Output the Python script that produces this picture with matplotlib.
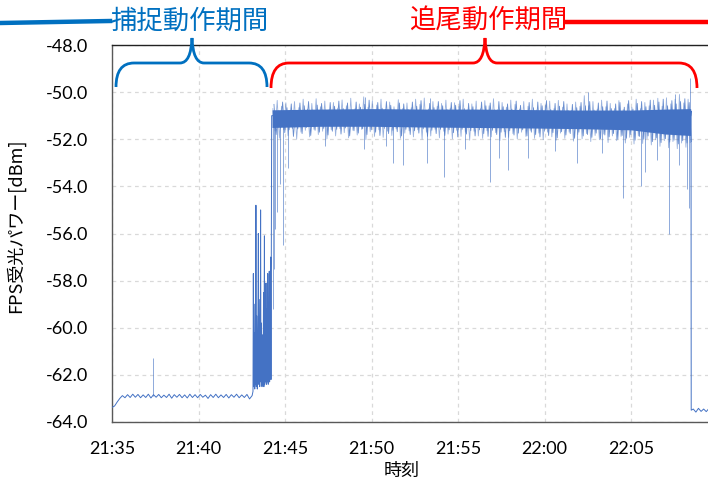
import numpy as np
import matplotlib
matplotlib.use('Agg')
import matplotlib.pyplot as plt
from matplotlib.path import Path
from matplotlib.patches import PathPatch
from matplotlib.lines import Line2D

# ---- data (minutes after 21:35, dBm) ----
tick_minutes = [0, 5, 10, 15, 20, 25, 30]
tick_labels = ['21:35', '21:40', '21:45', '21:50', '21:55', '22:00', '22:05']
y_ticks = [-48, -50, -52, -54, -56, -58, -60, -62, -64]

# acquisition baseline, sampled every 0.15 min from 0.0
acq_base = [-63.38, -63.32, -63.15, -63.00, -62.88, -62.97, -62.84, -62.96, -62.82, -62.95,
            -62.83, -62.97, -62.85, -62.96, -62.82, -62.98, -62.84, -62.95, -62.83, -62.97,
            -62.86, -62.96, -62.82, -62.99, -62.84, -62.95, -62.83, -62.97, -62.85, -62.98,
            -62.82, -62.96, -62.84, -62.97, -62.83, -62.95, -62.86, -63.00, -62.84, -62.96,
            -62.82, -62.97, -62.85, -62.96, -62.83, -62.98, -62.84, -62.95, -62.82, -62.97,
            -62.85, -62.96, -62.83, -63.02, -62.88]

# burst just before lock-on
burst_t = [8.15, 8.17, 8.19, 8.22, 8.25, 8.28, 8.30, 8.32, 8.34, 8.37, 8.40, 8.43, 8.46,
           8.48, 8.51, 8.54, 8.57, 8.59, 8.61, 8.64, 8.67, 8.70, 8.73, 8.76, 8.78, 8.81,
           8.83, 8.86, 8.88, 8.90, 8.93, 8.96, 8.98, 9.00, 9.03, 9.06, 9.09, 9.11, 9.14,
           9.17, 9.19, 9.23]
burst_v = [-62.7, -57.7, -62.5, -59.0, -62.6, -60.2, -62.4, -54.8, -62.5, -59.5, -62.6,
           -60.5, -56.0, -62.4, -58.8, -62.5, -61.0, -55.0, -62.3, -59.8, -62.5, -60.3,
           -62.4, -58.5, -62.5, -56.1, -62.4, -60.0, -62.3, -58.1, -62.4, -59.2, -62.3,
           -57.7, -62.4, -60.8, -57.6, -62.3, -59.5, -57.0, -62.2, -51.0]

# tracking band edges, sampled every 0.25 min from 9.3
band_hi = [-50.70, -50.35, -50.60, -50.45, -50.78, -50.40, -50.66, -50.30,
           -50.72, -50.48, -50.28, -50.62, -50.38, -50.75, -50.44, -50.68,
           -50.33, -50.58, -50.26, -50.70, -50.50, -50.20, -50.64, -50.36,
           -50.55, -50.30, -50.74, -50.42, -50.62, -50.32, -50.70, -50.46,
           -50.66, -50.30, -50.52, -50.25, -50.72, -50.40, -50.60, -50.48,
           -50.34, -50.68, -50.45, -50.62, -50.30, -50.76, -50.50, -50.38,
           -50.70, -50.36, -50.58, -50.28, -50.74, -50.44, -50.64, -50.34,
           -50.52, -50.72, -50.40, -50.60, -50.30, -50.76, -50.48, -50.56,
           -50.38, -50.70, -50.35, -50.64, -50.50, -50.78, -50.42, -50.60,
           -50.15, -50.58, -50.40, -50.72, -50.34, -50.62, -50.48, -50.70,
           -50.36, -50.74, -50.50, -50.64, -50.30, -50.70, -50.44, -50.58,
           -50.34, -50.26, -50.60, -50.24, -50.50, -50.30, -50.10, -50.46,
           -50.30]
band_lo = [-51.65, -51.95, -51.60, -51.85, -51.55, -52.00, -51.70, -51.62,
           -51.90, -51.58, -51.80, -51.66, -51.98, -51.60, -51.86, -51.55,
           -51.72, -51.94, -51.62, -51.82, -51.58, -52.02, -51.68, -51.88,
           -51.60, -51.92, -51.66, -51.84, -51.56, -51.96, -51.74, -51.64,
           -51.90, -51.60, -52.00, -51.70, -51.86, -51.58, -51.94, -51.66,
           -51.78, -51.98, -51.62, -51.88, -51.70, -52.04, -51.66, -51.86,
           -51.96, -51.64, -51.90, -51.72, -52.05, -51.68, -51.92, -51.76,
           -51.98, -51.70, -51.88, -51.62, -51.96, -51.74, -52.02, -51.70,
           -51.90, -52.04, -51.74, -51.96, -51.70, -52.08, -51.80, -51.98,
           -51.76, -52.10, -51.84, -52.02, -51.78, -52.14, -51.86, -52.06,
           -51.88, -52.16, -51.92, -52.20, -51.86, -52.18, -51.98, -52.24,
           -52.02, -52.30, -52.06, -52.36, -52.10, -52.40, -52.16, -52.34,
           -52.14]
# second pass of samples, in between the first (from 9.36)
band_hi2 = [-50.52, -50.80, -50.42, -50.66, -50.50, -50.84, -50.46, -50.58,
            -50.40, -50.76, -50.55, -50.48, -50.82, -50.44, -50.60, -50.38,
            -50.70, -50.46, -50.78, -50.42, -50.64, -50.52, -50.34, -50.80,
            -50.44, -50.68, -50.40, -50.56, -50.82, -50.46, -50.50, -50.74,
            -50.42, -50.60, -50.36, -50.78, -50.48, -50.66, -50.40, -50.58,
            -50.74, -50.44, -50.56, -50.36, -50.70, -50.48, -50.62, -50.80,
            -50.42, -50.58, -50.46, -50.76, -50.40, -50.62, -50.50, -50.72,
            -50.38, -50.56, -50.80, -50.44, -50.66, -50.42, -50.58, -50.36,
            -50.74, -50.48, -50.60, -50.40, -50.78, -50.52, -50.66, -50.44,
            -50.58, -50.40, -50.76, -50.46, -50.62, -50.38, -50.70, -50.50,
            -50.44, -50.64, -50.36, -50.72, -50.48, -50.40, -50.62, -50.34,
            -50.56, -50.42, -50.30, -50.58, -50.36, -50.50, -50.40, -50.28,
            -50.44]
band_lo2 = [-51.80, -51.52, -51.72, -51.60, -51.88, -51.56, -51.76, -51.50,
            -51.84, -51.62, -51.70, -51.54, -51.82, -51.66, -51.58, -51.78,
            -51.52, -51.86, -51.64, -51.74, -51.56, -51.80, -51.60, -51.70,
            -51.84, -51.54, -51.76, -51.62, -51.68, -51.86, -51.58, -51.80,
            -51.64, -51.74, -51.56, -51.88, -51.62, -51.76, -51.58, -51.84,
            -51.60, -51.72, -51.90, -51.58, -51.78, -51.64, -51.86, -51.60,
            -51.76, -51.88, -51.62, -51.80, -51.70, -51.92, -51.64, -51.82,
            -51.74, -51.60, -51.86, -51.70, -51.80, -51.90, -51.66, -51.84,
            -51.72, -51.94, -51.68, -51.82, -51.76, -51.96, -51.70, -51.86,
            -51.80, -51.92, -51.74, -51.98, -51.82, -51.90, -51.76, -52.00,
            -51.84, -51.96, -51.80, -52.04, -51.88, -52.00, -51.86, -52.10,
            -51.94, -52.14, -51.98, -52.12, -52.04, -52.20, -52.06, -52.16,
            -52.10]

core_t = [9.25, 12, 15, 18, 21, 24, 27, 30, 32, 33.45]
core_hi = [-50.75, -50.72, -50.70, -50.72, -50.72, -50.74, -50.76, -50.76, -50.72, -50.70]
core_lo = [-51.50, -51.45, -51.45, -51.48, -51.50, -51.52, -51.55, -51.60, -51.78, -51.84]

# after loss of lock, sampled every 0.15 min from 33.6
end_base = [-63.45, -63.58, -63.42, -63.55, -63.45, -63.56, -63.43]

spike_dn_t = [9.30, 9.36, 9.45, 9.54, 9.71, 9.88, 10.17, 14.57, 15.84, 16.24, 16.82,
              18.21, 19.19, 21.85, 22.37, 22.89, 24.05, 26.88, 29.54, 30.58, 30.81,
              32.20, 33.24, 33.35, 12.3, 20.4, 25.6, 28.3, 31.5, 32.8]
spike_dn_v = [-59.2, -57.5, -55.8, -55.1, -53.9, -56.5, -53.2, -52.4, -52.3, -53.0, -53.1,
              -53.0, -53.6, -53.8, -52.8, -53.3, -52.8, -53.0, -54.5, -54.0, -53.4,
              -56.0, -54.1, -54.9, -52.3, -52.4, -52.5, -52.6, -52.9, -53.1]
spike_up_t = [14.62, 18.38, 27.51, 32.54, 33.41, 2.37]
spike_up_v = [-50.2, -50.25, -50.0, -50.1, -49.4, -61.3]
spike_up_base = [-50.8, -50.8, -50.8, -50.8, -50.8, -62.9]

blue = '#4472C4'

# ---- sample times ----
t_acq = np.arange(len(acq_base)) * 0.15
t_band = 9.3 + np.arange(len(band_hi)) * 0.25
t_band2 = t_band + 0.0625
t_end = 33.6 + np.arange(len(end_base)) * 0.15


def zigzag(t, hi, lo):
    tt = np.ravel(np.column_stack([t, t + 0.125]))
    vv = np.ravel(np.column_stack([hi, lo]))
    return tt, vv


W, H = 708, 483
fig = plt.figure(figsize=(W / 100, H / 100), dpi=100)
ax = fig.add_axes([112 / W, 61 / H, 596 / W, 377 / H])

ax.fill_between(core_t, core_lo, core_hi, color=blue, lw=0, zorder=4)
zt, zv = zigzag(t_band, band_hi, band_lo)
ax.plot(zt, zv, color=blue, lw=0.6, alpha=0.55, zorder=3)
zt2, zv2 = zigzag(t_band2, band_hi2, band_lo2)
ax.plot(zt2, zv2, color=blue, lw=0.6, alpha=0.8, zorder=3)
ax.plot(np.concatenate([t_acq, burst_t, [9.3]]), np.concatenate([acq_base, burst_v, [-51.0]]),
        color=blue, lw=0.7, zorder=4)
ax.plot(np.concatenate([[33.45, 33.47, 33.48], t_end]), np.concatenate([[-51.0, -50.8, -63.5], end_base]),
        color=blue, lw=0.7, zorder=4)
ax.vlines(spike_dn_t, -51.3, spike_dn_v, color=blue, lw=0.7, alpha=0.6, zorder=3)
ax.vlines(spike_up_t, spike_up_base, spike_up_v, color=blue, lw=0.7, alpha=0.6, zorder=3)

ax.set_xlim(0, 596 / 17.3)
ax.set_ylim(-64, -48)
ax.set_xticks(tick_minutes)
ax.set_xticklabels(tick_labels)
ax.set_yticks(y_ticks)
ax.set_yticklabels(['%.1f' % v for v in y_ticks])
ax.tick_params(length=0, labelsize=13)
ax.tick_params(axis='x', pad=14)
ax.tick_params(axis='y', pad=17)
for lab in ax.get_xticklabels() + ax.get_yticklabels():
    lab.set_family(['Lato', 'DejaVu Sans'])

ax.grid(True, color='#D9D9D9', lw=0.9, ls=(0, (3, 3)))
ax.set_axisbelow(True)
ax.spines['right'].set_visible(False)
ax.spines['top'].set_color('#222222')
ax.spines['left'].set_color('#595959')
ax.spines['bottom'].set_color('#595959')
for s in ['top', 'left', 'bottom']:
    ax.spines[s].set_linewidth(1.0)

jp = ['Noto Sans CJK JP', 'DejaVu Sans']
ax.set_ylabel('FPS受光パワー[dBm]', family=jp, fontsize=13, va='center')
ax.yaxis.set_label_coords(-97 / 596, 0.52)
ax.set_xlabel('時刻', family=jp, fontsize=13)
ax.xaxis.set_label_coords((402 - 112) / 596, -40 / 377)


def brace(x0, x1, xm, y_end, y_bar, y_tip, r, color):
    pts = [(x0, y_end), (x0, y_bar), (x0 + r, y_bar),
           (xm - 12, y_bar), (xm - 1, y_bar), (xm, y_tip),
           (xm + 1, y_bar), (xm + 12, y_bar),
           (x1 - r, y_bar), (x1, y_bar), (x1, y_end)]
    codes = [Path.MOVETO, Path.CURVE3, Path.CURVE3, Path.LINETO, Path.CURVE3, Path.CURVE3,
             Path.CURVE3, Path.CURVE3, Path.LINETO, Path.CURVE3, Path.CURVE3]
    verts = [(x / W, 1 - y / H) for x, y in pts]
    fig.patches.append(PathPatch(Path(verts, codes), transform=fig.transFigure,
                                 fill=False, ec=color, lw=2.0))


c_acq = '#0070C0'
c_trk = '#FF0000'
brace(116, 267, 192, 87, 63, 38, 18, c_acq)
brace(271, 697, 485, 88, 63, 38, 18, c_trk)

fig.lines.append(Line2D([0, 110 / W], [1 - 23 / H, 1 - 21 / H], transform=fig.transFigure,
                        color=c_acq, lw=3.2))
fig.lines.append(Line2D([567 / W, 1], [1 - 22 / H, 1 - 22 / H], transform=fig.transFigure,
                        color=c_trk, lw=3.2))
fig.text(189 / W, 1 - 21 / H, '捕捉動作期間', family=jp, fontsize=19, color=c_acq,
         ha='center', va='center')
fig.text(488 / W, 1 - 21 / H, '追尾動作期間', family=jp, fontsize=19, color=c_trk,
         ha='center', va='center')

fig.savefig('out.png', dpi=100)
